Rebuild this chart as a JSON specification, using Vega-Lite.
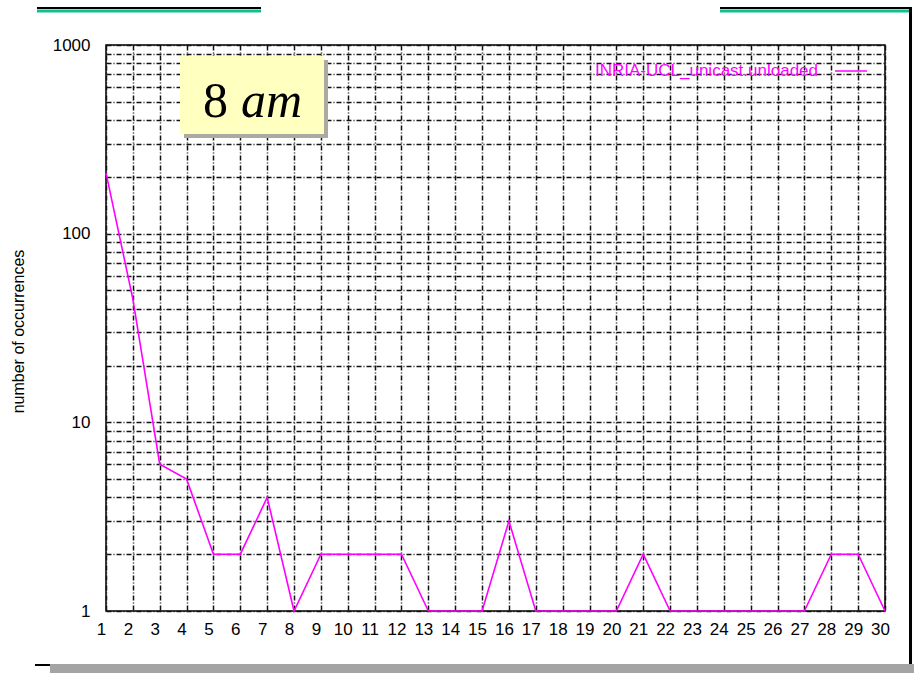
{
  "$schema": "https://vega.github.io/schema/vega-lite/v6.json",
  "width": 779,
  "height": 566,
  "autosize": "none",
  "padding": {"left": 106, "top": 45, "right": 29, "bottom": 62},
  "background": "white",
  "config": {
    "font": "Liberation Sans",
    "view": {"stroke": "#000", "strokeWidth": 1.5},
    "axis": {
      "grid": true,
      "gridColor": "#111111",
      "gridDash": [5, 2, 1, 2],
      "gridWidth": 1.5,
      "ticks": false,
      "domain": false,
      "labelFont": "Liberation Sans",
      "labelFontSize": 17,
      "labelColor": "#000",
      "labelOverlap": false,
      "labelFlush": false,
      "labelBound": false
    }
  },
  "data": {
    "values": [
      {"t": 1, "count": 210, "series": "INRIA-UCL_unicast.unloaded"},
      {"t": 2, "count": 45, "series": "INRIA-UCL_unicast.unloaded"},
      {"t": 3, "count": 6, "series": "INRIA-UCL_unicast.unloaded"},
      {"t": 4, "count": 5, "series": "INRIA-UCL_unicast.unloaded"},
      {"t": 5, "count": 2, "series": "INRIA-UCL_unicast.unloaded"},
      {"t": 6, "count": 2, "series": "INRIA-UCL_unicast.unloaded"},
      {"t": 7, "count": 4, "series": "INRIA-UCL_unicast.unloaded"},
      {"t": 8, "count": 1, "series": "INRIA-UCL_unicast.unloaded"},
      {"t": 9, "count": 2, "series": "INRIA-UCL_unicast.unloaded"},
      {"t": 10, "count": 2, "series": "INRIA-UCL_unicast.unloaded"},
      {"t": 11, "count": 2, "series": "INRIA-UCL_unicast.unloaded"},
      {"t": 12, "count": 2, "series": "INRIA-UCL_unicast.unloaded"},
      {"t": 13, "count": 1, "series": "INRIA-UCL_unicast.unloaded"},
      {"t": 14, "count": 1, "series": "INRIA-UCL_unicast.unloaded"},
      {"t": 15, "count": 1, "series": "INRIA-UCL_unicast.unloaded"},
      {"t": 16, "count": 3, "series": "INRIA-UCL_unicast.unloaded"},
      {"t": 17, "count": 1, "series": "INRIA-UCL_unicast.unloaded"},
      {"t": 18, "count": 1, "series": "INRIA-UCL_unicast.unloaded"},
      {"t": 19, "count": 1, "series": "INRIA-UCL_unicast.unloaded"},
      {"t": 20, "count": 1, "series": "INRIA-UCL_unicast.unloaded"},
      {"t": 21, "count": 2, "series": "INRIA-UCL_unicast.unloaded"},
      {"t": 22, "count": 1, "series": "INRIA-UCL_unicast.unloaded"},
      {"t": 23, "count": 1, "series": "INRIA-UCL_unicast.unloaded"},
      {"t": 24, "count": 1, "series": "INRIA-UCL_unicast.unloaded"},
      {"t": 25, "count": 1, "series": "INRIA-UCL_unicast.unloaded"},
      {"t": 26, "count": 1, "series": "INRIA-UCL_unicast.unloaded"},
      {"t": 27, "count": 1, "series": "INRIA-UCL_unicast.unloaded"},
      {"t": 28, "count": 2, "series": "INRIA-UCL_unicast.unloaded"},
      {"t": 29, "count": 2, "series": "INRIA-UCL_unicast.unloaded"},
      {"t": 30, "count": 1, "series": "INRIA-UCL_unicast.unloaded"}
    ]
  },
  "layer": [
    {
      "data": {"values": [{}]},
      "mark": {"type": "rect", "fill": "#aaaaa0"},
      "encoding": {
        "x": {"datum": 3.904, "type": "quantitative"},
        "x2": {"datum": 9.265},
        "y": {"datum": 832.8, "type": "quantitative"},
        "y2": {"datum": 321.5}
      }
    },
    {
      "data": {"values": [{}]},
      "mark": {"type": "rect", "fill": "#ffffc0"},
      "encoding": {
        "x": {"datum": 3.755, "type": "quantitative"},
        "x2": {"datum": 9.116},
        "y": {"datum": 874.5, "type": "quantitative"},
        "y2": {"datum": 337.6}
      }
    },
    {
      "mark": {"type": "line", "strokeWidth": 1.6, "interpolate": "linear"},
      "encoding": {
        "x": {
          "field": "t",
          "type": "quantitative",
          "scale": {"domain": [1, 30], "nice": false, "zero": false},
          "axis": {
            "title": null,
            "values": [1,2,3,4,5,6,7,8,9,10,11,12,13,14,15,16,17,18,19,20,21,22,23,24,25,26,27,28,29,30],
            "tickCount": 60,
            "format": "d",
            "labelOverlap": false,
            "labelPadding": 10,
            "labelOffset": -5
          }
        },
        "y": {
          "field": "count",
          "type": "quantitative",
          "scale": {"type": "log", "domain": [1, 1000], "nice": false},
          "axis": {
            "title": "number of occurrences",
            "titleFont": "Liberation Sans",
            "titleFontSize": 16,
            "titleFontWeight": "normal",
            "titleColor": "#000",
            "titleAngle": -90,
            "titleX": -88,
            "titleY": 286,
            "titleAlign": "center",
            "titleBaseline": "middle",
            "values": [1,2,3,4,5,6,7,8,9,10,20,30,40,50,60,70,80,90,100,200,300,400,500,600,700,800,900,1000],
            "tickCount": 60,
            "labelOverlap": false,
            "labelExpr": "datum.value == 1 || datum.value == 10 || datum.value == 100 || datum.value == 1000 ? toString(datum.value) : ''",
            "labelPadding": 16
          }
        },
        "color": {
          "field": "series",
          "type": "nominal",
          "scale": {"domain": ["INRIA-UCL_unicast.unloaded"], "range": ["#ff00ff"]},
          "legend": {
            "title": null,
            "orient": "none",
            "legendX": 728,
            "legendY": 9,
            "padding": 0,
            "symbolType": "stroke",
            "symbolSize": 1024,
            "symbolStrokeWidth": 1.5,
            "labelColor": "#ff00ff",
            "labelFont": "Liberation Sans",
            "labelFontSize": 17,
            "labelAlign": "right",
            "labelOffset": -50,
            "labelLimit": 400
          }
        }
      }
    },
    {
      "data": {"values": [{}]},
      "mark": {"type": "text", "font": "Liberation Serif", "fontSize": 50, "align": "left", "baseline": "alphabetic", "color": "#000"},
      "encoding": {
        "x": {"datum": 4.611, "type": "quantitative"},
        "y": {"datum": 415.3, "type": "quantitative"},
        "text": {"value": "8"}
      }
    },
    {
      "data": {"values": [{}]},
      "mark": {"type": "text", "font": "Liberation Serif", "fontSize": 50, "fontStyle": "italic", "align": "left", "baseline": "alphabetic", "color": "#000"},
      "encoding": {
        "x": {"datum": 6.026, "type": "quantitative"},
        "y": {"datum": 415.3, "type": "quantitative"},
        "text": {"value": "am"}
      }
    },
    {
      "data": {"values": [{}]},
      "mark": {"type": "rule", "stroke": "#000", "strokeWidth": 2, "strokeCap": "butt"},
      "encoding": {
        "x": {"datum": -1.569, "type": "quantitative"},
        "x2": {"datum": 6.770},
        "y": {"datum": 1571, "type": "quantitative"}
      }
    },
    {
      "data": {"values": [{}]},
      "mark": {"type": "rule", "stroke": "#10c090", "strokeWidth": 3, "strokeCap": "butt"},
      "encoding": {
        "x": {"datum": -1.569, "type": "quantitative"},
        "x2": {"datum": 6.770},
        "y": {"datum": 1514, "type": "quantitative"}
      }
    },
    {
      "data": {"values": [{}]},
      "mark": {"type": "rule", "stroke": "#000", "strokeWidth": 2, "strokeCap": "butt"},
      "encoding": {
        "x": {"datum": 23.857, "type": "quantitative"},
        "x2": {"datum": 31.005},
        "y": {"datum": 1571, "type": "quantitative"}
      }
    },
    {
      "data": {"values": [{}]},
      "mark": {"type": "rule", "stroke": "#10c090", "strokeWidth": 3, "strokeCap": "butt"},
      "encoding": {
        "x": {"datum": 23.857, "type": "quantitative"},
        "x2": {"datum": 30.9},
        "y": {"datum": 1514, "type": "quantitative"}
      }
    },
    {
      "data": {"values": [{}]},
      "mark": {"type": "rule", "stroke": "#000", "strokeWidth": 3, "strokeCap": "butt"},
      "encoding": {
        "x": {"datum": 30.95, "type": "quantitative"},
        "y": {"datum": 1590, "type": "quantitative"},
        "y2": {"datum": 0.5237}
      }
    },
    {
      "data": {"values": [{}]},
      "mark": {"type": "rect", "fill": "#a4a4a4"},
      "encoding": {
        "x": {"datum": -1.085, "type": "quantitative"},
        "x2": {"datum": 31.08},
        "y": {"datum": 0.5237, "type": "quantitative"},
        "y2": {"datum": 0.4692}
      }
    },
    {
      "data": {"values": [{}]},
      "mark": {"type": "rule", "stroke": "#000", "strokeWidth": 2, "strokeCap": "butt"},
      "encoding": {
        "x": {"datum": -1.643, "type": "quantitative"},
        "x2": {"datum": -1.085},
        "y": {"datum": 0.5173, "type": "quantitative"}
      }
    }
  ]
}
